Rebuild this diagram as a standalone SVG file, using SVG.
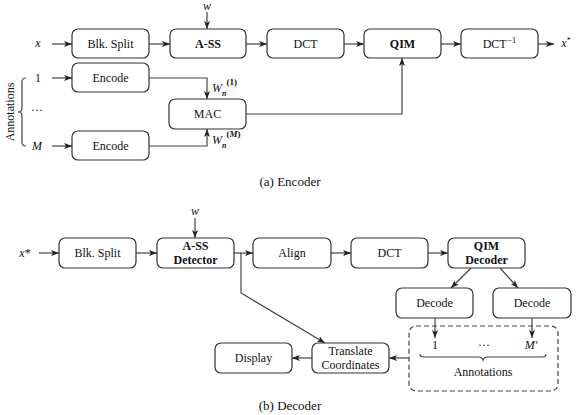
<svg xmlns="http://www.w3.org/2000/svg" width="577" height="415" viewBox="0 0 577 415" font-family="'Liberation Serif','DejaVu Serif',serif">
<defs>
<marker id="ah" viewBox="0 0 8 6" refX="8" refY="3" markerWidth="8" markerHeight="6" markerUnits="userSpaceOnUse" orient="auto">
<path d="M0,0 L8,3 L0,6 L2,3 z" fill="#222"/>
</marker>
<style>
text{font-family:'Liberation Serif','DejaVu Serif',serif;font-size:12px;fill:#111;text-anchor:middle}
.b{font-weight:bold}
.i{font-style:italic}
.s{text-anchor:start}
.box{fill:#fff;stroke:#333;stroke-width:1.2}
.c{fill:none;stroke:#444;stroke-width:1.2}
.ca{fill:none;stroke:#444;stroke-width:1.2;marker-end:url(#ah)}
.cap{font-size:13px}
</style>
</defs>
<rect width="577" height="415" fill="#fff"/>

<!-- Encoder connectors -->
<g id="enc-connectors">
<line class="ca" x1="52" y1="44" x2="72" y2="44"/>
<line class="ca" x1="149" y1="44" x2="170" y2="44"/>
<line class="ca" x1="207" y1="12" x2="207" y2="29"/>
<line class="ca" x1="246" y1="44" x2="267" y2="44"/>
<line class="ca" x1="344" y1="44" x2="364" y2="44"/>
<line class="ca" x1="441" y1="44" x2="461" y2="44"/>
<line class="ca" x1="538" y1="44" x2="554" y2="44"/>
<line class="ca" x1="52" y1="78" x2="72" y2="78"/>
<line class="ca" x1="52" y1="146" x2="72" y2="146"/>
<polyline class="ca" points="149,78 207,78 207,99"/>
<polyline class="ca" points="149,146 207,146 207,129"/>
<polyline class="ca" points="246,114 402,114 402,58"/>
<path class="c" d="M26,78 Q22,78 22,82 L22,108 Q22,112 18,112 Q22,112 22,116 L22,142 Q22,146 26,146" stroke-width="0.9"/>
</g>

<!-- Encoder nodes -->
<g id="x-in"><text class="i" x="38" y="47">x</text></g>
<g id="w-in"><text class="i" x="207" y="10">w</text></g>
<g id="blk-split"><rect class="box" x="72" y="29" width="77" height="29" rx="6"/><text x="110.5" y="48">Blk. Split</text></g>
<g id="ass"><rect class="box" x="170" y="29" width="76" height="29" rx="6"/><text class="b" x="208" y="48">A-SS</text></g>
<g id="dct"><rect class="box" x="267" y="29" width="77" height="29" rx="6"/><text x="305.5" y="48">DCT</text></g>
<g id="qim"><rect class="box" x="364" y="29" width="77" height="29" rx="6"/><text class="b" x="402.5" y="48">QIM</text></g>
<g id="idct"><rect class="box" x="461" y="29" width="77" height="29" rx="6"/><text x="499.5" y="48">DCT<tspan font-size="9" dy="-5">−1</tspan></text></g>
<g id="x-out"><text class="i" x="566" y="47">x<tspan font-size="8" dy="-4" font-style="normal">*</tspan></text></g>
<g id="ann-1"><text x="38" y="82">1</text></g>
<g id="ann-dots"><text x="37" y="114">···</text></g>
<g id="ann-M"><text class="i" x="37" y="150">M</text></g>
<g id="ann-label"><text x="10" y="112" font-size="11" transform="rotate(-90 10 112)" dy="4">Annotations</text></g>
<g id="encode-1"><rect class="box" x="72" y="63" width="77" height="29" rx="6"/><text x="110.5" y="82">Encode</text></g>
<g id="encode-M"><rect class="box" x="72" y="131" width="77" height="29" rx="6"/><text x="110.5" y="150">Encode</text></g>
<g id="mac"><rect class="box" x="169" y="99" width="77" height="30" rx="6"/><text x="207.5" y="118">MAC</text></g>
<g id="w1">
<text class="i s" x="212" y="92">W<tspan class="b" font-size="8" dy="4">n</tspan><tspan class="b" font-size="9" font-style="normal" dy="-11">(1)</tspan></text>
</g>
<g id="wM">
<text class="i s" x="212" y="144">W<tspan class="b" font-size="8" dy="4">n</tspan><tspan class="b" font-size="9" font-style="normal" dy="-11">(<tspan font-style="italic">M</tspan>)</tspan></text>
</g>
<g id="cap-a"><text class="cap" x="290" y="186">(a) Encoder</text></g>

<!-- Decoder connectors -->
<g id="dec-connectors">
<line class="ca" x1="39" y1="253" x2="59" y2="253"/>
<line class="ca" x1="136" y1="253" x2="157" y2="253"/>
<line class="ca" x1="195" y1="218" x2="195" y2="238"/>
<line class="ca" x1="234" y1="253" x2="253" y2="253"/>
<line class="ca" x1="331" y1="253" x2="351" y2="253"/>
<line class="ca" x1="428" y1="253" x2="448" y2="253"/>
<polyline class="ca" points="241,253 241,293 325,343"/>
<line class="ca" x1="471" y1="268" x2="451" y2="288"/>
<line class="ca" x1="500" y1="268" x2="518" y2="288"/>
<line class="ca" x1="435" y1="318" x2="435" y2="338"/>
<line class="ca" x1="532" y1="318" x2="532" y2="338"/>
<line class="ca" x1="409" y1="358" x2="389" y2="358"/>
<line class="ca" x1="312" y1="358" x2="292" y2="358"/>
<path class="c" d="M420,354 Q420,357 424,357 L478,357 Q482,357 483,360 Q484,357 488,357 L542,357 Q546,357 546,354" stroke-width="0.9"/>
</g>

<!-- Decoder nodes -->
<g id="xs-in"><text class="i" x="25" y="257">x<tspan font-style="normal">*</tspan></text></g>
<g id="w-in2"><text class="i" x="195" y="215">w</text></g>
<g id="blk-split2"><rect class="box" x="59" y="238" width="77" height="30" rx="6"/><text x="97.5" y="257">Blk. Split</text></g>
<g id="ass-det"><rect class="box" x="157" y="238" width="77" height="30" rx="6"/><text class="b" x="195.5" y="250">A-SS</text><text class="b" x="195.5" y="264">Detector</text></g>
<g id="align"><rect class="box" x="253" y="238" width="78" height="30" rx="6"/><text x="292" y="257">Align</text></g>
<g id="dct2"><rect class="box" x="351" y="238" width="77" height="30" rx="6"/><text x="389.5" y="257">DCT</text></g>
<g id="qim-dec"><rect class="box" x="448" y="238" width="77" height="30" rx="6"/><text class="b" x="486.5" y="250">QIM</text><text class="b" x="486.5" y="264">Decoder</text></g>
<g id="decode-1"><rect class="box" x="396" y="288" width="77" height="30" rx="6"/><text x="434.5" y="307">Decode</text></g>
<g id="decode-2"><rect class="box" x="493" y="288" width="78" height="30" rx="6"/><text x="532" y="307">Decode</text></g>
<g id="annotations-out">
<rect x="409" y="326" width="149" height="65" rx="7" fill="none" stroke="#444" stroke-width="1.2" stroke-dasharray="5,3"/>
<text x="435" y="349">1</text>
<text x="484" y="349">···</text>
<text class="i" x="531" y="349">M′</text>
<text x="483" y="376">Annotations</text>
</g>
<g id="translate"><rect class="box" x="312" y="343" width="77" height="30" rx="6"/><text x="350.5" y="355">Translate</text><text x="350.5" y="369">Coordinates</text></g>
<g id="display"><rect class="box" x="215" y="343" width="77" height="30" rx="6"/><text x="253.5" y="362">Display</text></g>
<g id="cap-b"><text class="cap" x="290" y="410">(b) Decoder</text></g>
</svg>
